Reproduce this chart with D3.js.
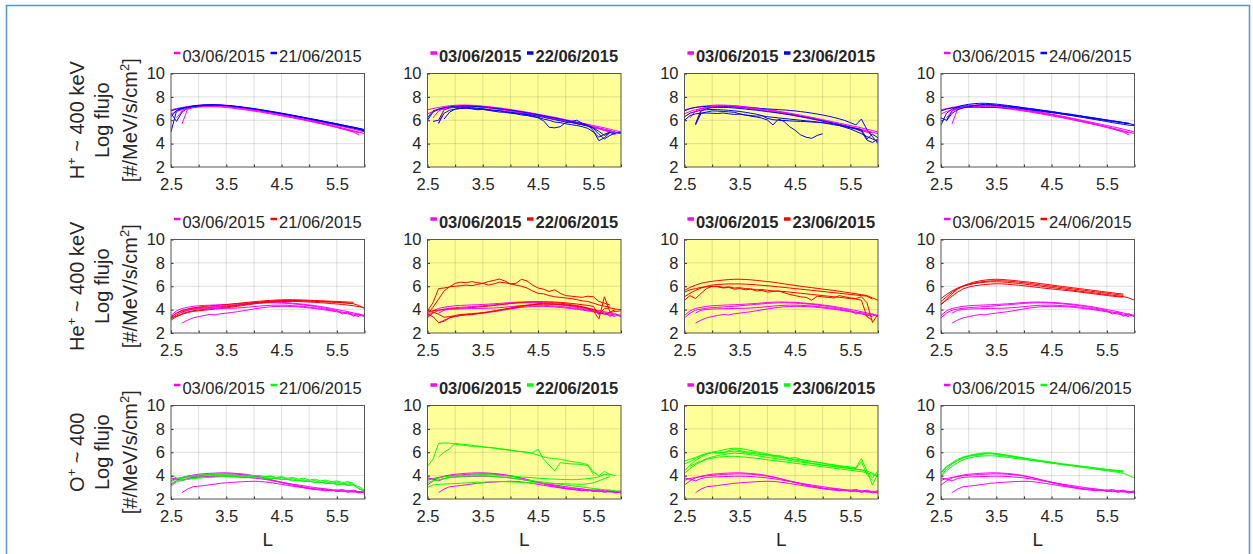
<!DOCTYPE html>
<html><head><meta charset="utf-8">
<script src="https://cdn.jsdelivr.net/npm/d3@7"></script>
<style>
html,body{margin:0;padding:0;background:#fff;}
svg{display:block;font-family:"Liberation Sans",Arial,Helvetica,sans-serif;}
</style></head><body>
<svg id="chart" width="1253" height="554"></svg>
<script>
// L-shell sample grid shared by every pass
const L = [2.5,2.6,2.7,2.8,2.9,3.0,3.1,3.2,3.3,3.4,3.5,3.6,
           3.7,3.8,3.9,4.0,4.1,4.2,4.3,4.4,4.5,4.6,4.7,4.8,
           4.9,5.0,5.1,5.2,5.3,5.4,5.5,5.6,5.7,5.8,5.9,6.0];

const refDay = "03/06/2015";
const days = ["21/06/2015","22/06/2015","23/06/2015","24/06/2015"];
const stormDays = [false,true,true,false];
const xTicks = [2.5,3,3.5,4,4.5,5,5.5,6];
const xTickLabels = [2.5,3.5,4.5,5.5];
const yTicks = [2,4,6,8,10];

// ---- H+ ~400 keV, log flux per pass ----
const refH = [
 [6.90,7.00,7.10,7.18,7.24,7.28,7.30,7.30,7.28,7.25,7.21,7.16,
  7.11,7.06,6.99,6.92,6.85,6.77,6.69,6.61,6.52,6.43,6.34,6.25,
  6.15,6.05,5.95,5.85,5.75,5.65,5.55,5.45,5.35,5.23,5.12,5.00],
 [6.55,6.75,6.90,7.00,7.08,7.13,7.16,7.17,7.16,7.13,7.09,7.04,
  6.98,6.92,6.85,6.78,6.71,6.63,6.55,6.47,6.38,6.29,6.20,6.11,
  6.01,5.91,5.81,5.71,5.61,5.50,5.39,5.28,5.16,5.04,4.92,null],
 [null,null,5.70,6.95,7.10,7.18,7.22,7.24,7.24,7.22,7.18,7.13,
  7.07,7.00,6.93,6.86,6.78,6.70,6.62,6.53,6.44,6.35,6.25,6.15,
  6.05,5.95,5.85,5.74,5.63,5.51,5.39,5.26,5.12,4.98,4.75,null],
 [null,6.20,6.80,7.00,7.10,7.17,7.21,7.23,7.23,7.21,7.17,7.12,
  7.06,7.00,6.94,6.87,6.80,6.72,6.64,6.56,6.47,6.38,6.29,6.19,
  6.09,5.99,5.89,5.78,5.67,5.56,5.45,5.34,5.22,5.10,4.98,4.86]
];
const h21 = [
 [5.00,6.80,7.00,7.12,7.22,7.28,7.32,7.33,7.32,7.30,7.26,7.21,
  7.15,7.09,7.02,6.95,6.88,6.81,6.73,6.65,6.57,6.49,6.41,6.32,
  6.23,6.14,6.05,5.96,5.87,5.78,5.69,5.60,5.50,5.41,5.31,5.20],
 [6.60,5.90,6.70,7.05,7.18,7.25,7.29,7.30,7.29,7.27,7.23,7.18,
  7.12,7.06,7.00,6.93,6.86,6.78,6.70,6.62,6.54,6.46,6.37,6.28,
  6.19,6.10,6.00,5.91,5.81,5.72,5.62,5.52,5.42,5.32,5.22,5.12],
 [6.80,6.95,7.05,7.13,7.19,7.24,7.27,7.29,7.30,7.30,7.28,7.24,
  7.19,7.13,7.07,7.00,6.93,6.85,6.77,6.69,6.61,6.52,6.43,6.34,
  6.25,6.16,6.07,5.98,5.88,5.79,5.69,5.59,5.49,5.39,5.29,5.18],
 [6.30,6.85,7.00,7.10,7.17,7.22,7.26,7.28,7.29,7.28,7.25,7.21,
  7.16,7.10,7.04,6.97,6.90,6.82,6.74,6.66,6.58,6.50,6.41,6.32,
  6.23,6.13,6.04,5.94,5.84,5.75,5.65,5.55,5.45,5.35,5.24,5.05]
];
const h22 = [
 [6.20,6.80,6.95,7.05,7.12,7.17,7.19,7.20,7.19,7.17,7.13,7.08,
  7.03,6.97,6.91,6.85,6.78,6.70,6.62,6.53,6.44,6.35,6.26,6.16,
  6.06,5.96,5.86,5.76,5.65,5.54,5.43,5.32,5.21,5.10,4.98,4.86],
 [null,5.90,6.00,6.90,7.05,7.10,7.12,7.08,7.00,6.95,6.98,6.88,
  6.80,6.83,6.72,6.65,6.60,6.52,6.48,6.35,6.20,5.95,5.40,5.35,
  5.45,5.80,5.90,6.00,5.75,5.60,5.10,4.25,4.50,4.95,null,null],
 [null,null,5.75,6.60,6.85,6.95,7.00,7.02,6.98,6.90,6.92,6.85,
  6.78,6.70,6.68,6.60,6.55,6.45,6.40,6.30,6.25,6.10,6.00,5.85,
  5.80,5.70,5.62,5.55,5.45,5.30,5.00,4.55,4.80,5.00,null,null],
 [6.00,6.70,6.95,7.08,7.15,7.20,7.22,7.22,7.20,7.18,7.14,7.10,
  7.04,6.98,6.92,6.86,6.80,6.72,6.64,6.56,6.47,6.38,6.29,6.20,
  6.10,6.00,5.90,5.80,5.70,5.55,5.35,5.05,4.70,4.95,4.85,null],
 [null,null,null,6.10,6.70,6.95,7.05,7.10,7.08,7.02,6.96,6.92,
  6.86,6.80,6.74,6.70,6.62,6.58,6.50,6.42,6.35,6.25,6.15,6.05,
  5.95,5.85,5.82,5.70,5.62,5.50,5.30,4.80,4.40,4.70,4.90,4.95]
];
const h23 = [
 [null,null,5.60,6.60,6.70,6.80,6.78,6.75,6.72,6.68,6.55,6.45,
  6.35,6.28,6.18,6.02,5.60,6.10,5.90,5.45,5.15,4.75,4.55,4.45,
  4.70,4.85,null,null,null,null,null,null,null,null,null,null],
 [6.30,6.60,6.75,6.85,6.90,6.92,6.90,6.88,6.85,6.80,6.75,6.68,
  6.60,6.52,6.40,6.15,6.05,6.00,5.98,5.95,5.92,5.90,5.88,5.85,
  5.82,5.80,5.75,5.68,5.55,5.40,5.25,5.05,4.85,4.60,4.40,4.20],
 [6.80,7.00,7.10,7.15,7.18,7.20,7.20,7.19,7.17,7.15,7.12,7.09,
  7.06,7.03,7.00,6.97,6.94,6.91,6.88,6.84,6.80,6.74,6.68,6.61,
  6.53,6.45,6.35,6.24,6.12,5.98,5.80,5.60,6.10,5.20,4.60,4.00],
 [null,null,5.70,6.80,7.00,7.08,7.10,7.10,7.08,7.05,7.01,6.96,
  6.91,6.86,6.80,6.74,6.68,6.62,6.55,6.48,6.40,6.32,6.23,6.14,
  6.04,5.94,5.84,5.74,5.63,5.52,5.41,5.30,5.20,4.40,4.80,4.50],
 [6.00,6.40,6.55,6.60,6.62,6.60,6.58,6.62,6.55,6.50,6.52,6.45,
  6.40,6.35,6.38,6.30,6.25,6.20,6.15,6.10,6.05,6.00,5.95,5.90,
  5.85,5.78,5.70,5.62,5.54,5.45,5.35,5.25,5.05,4.30,4.10,4.40]
];
const h24 = [
 [5.60,6.60,6.95,7.15,7.28,7.36,7.42,7.45,7.45,7.42,7.38,7.33,
  7.27,7.21,7.14,7.07,7.00,6.93,6.86,6.79,6.72,6.65,6.58,6.51,
  6.44,6.37,6.30,6.23,6.16,6.09,6.02,5.95,5.88,5.80,5.72,5.60],
 [6.20,6.00,6.80,7.05,7.15,7.22,7.26,7.28,7.28,7.26,7.23,7.20,
  7.15,7.10,7.05,6.99,6.93,6.87,6.80,6.73,6.66,6.59,6.52,6.44,
  6.37,6.29,6.21,6.13,6.05,5.97,5.89,5.80,5.72,5.65,5.58,5.55],
 [6.80,6.95,7.05,7.10,7.12,7.12,7.12,7.11,7.10,7.10,7.09,7.07,
  7.05,7.02,6.98,6.94,6.89,6.84,6.78,6.72,6.66,6.60,6.53,6.46,
  6.39,6.32,6.25,6.18,6.11,6.04,5.97,5.90,5.83,5.76,5.70,null],
 [null,5.95,6.60,6.90,7.05,7.15,7.25,7.32,7.36,7.35,7.30,7.25,
  7.22,7.15,7.12,7.05,7.00,6.95,6.88,6.82,6.75,6.68,6.60,6.55,
  6.47,6.40,6.32,6.25,6.18,6.10,6.02,5.95,5.88,5.80,5.74,null]
];

// ---- He+ ~400 keV ----
const refHe = [
 [3.50,3.90,4.10,4.20,4.28,4.33,4.36,4.38,4.40,4.42,4.44,4.47,
  4.50,4.53,4.57,4.61,4.64,4.65,4.65,4.64,4.62,4.59,4.55,4.51,
  4.46,4.40,4.34,4.27,4.19,4.10,4.01,3.92,3.82,3.72,3.60,3.52],
 [3.30,3.70,3.95,4.05,4.12,4.17,4.20,4.23,4.26,4.29,4.33,4.37,
  4.41,4.45,4.49,4.53,4.56,4.58,4.59,4.58,4.56,4.53,4.49,4.45,
  4.40,4.34,4.27,4.19,4.11,4.02,3.93,3.62,3.80,3.42,3.65,3.38],
 [null,null,2.85,3.10,3.30,3.40,3.50,3.58,3.55,3.65,3.70,3.76,
  3.82,3.90,3.98,4.06,4.13,4.19,4.24,4.27,4.28,4.28,4.26,4.23,
  4.19,4.14,4.09,4.03,3.96,3.89,3.81,3.72,3.63,3.53,3.40,null],
 [null,null,3.70,3.95,4.02,4.05,4.07,4.08,4.09,4.10,4.11,4.12,
  4.14,4.17,4.21,4.26,4.30,4.34,4.37,4.38,4.38,4.37,4.34,4.31,
  4.27,4.22,4.16,4.10,4.03,3.95,3.87,3.79,3.70,3.62,3.52,3.45]
];
const he21 = [
 [3.20,3.55,3.80,3.95,4.05,4.10,4.14,4.18,4.22,4.26,4.30,4.35,
  4.40,4.46,4.52,4.58,4.63,4.68,4.72,4.75,4.77,4.78,4.78,4.77,
  4.76,4.74,4.72,4.70,4.68,4.66,4.63,4.60,4.55,4.50,4.35,4.10],
 [3.30,3.45,3.65,3.80,3.90,3.97,4.02,4.07,4.12,4.17,4.23,4.29,
  4.36,4.43,4.50,4.56,4.61,4.66,4.70,4.73,4.75,4.76,4.76,4.75,
  4.74,4.72,4.70,4.68,4.66,4.64,4.62,4.59,4.56,4.52,null,null],
 [3.10,3.40,3.60,3.75,3.85,3.90,3.95,4.00,4.05,4.10,4.16,4.22,
  4.28,4.35,4.42,4.49,4.55,4.60,4.64,4.67,4.69,4.70,4.70,4.69,
  4.67,4.65,4.62,4.59,4.56,4.52,4.48,4.44,4.39,4.33,4.25,4.18],
 [3.40,3.70,3.90,4.05,4.15,4.22,4.27,4.31,4.35,4.39,4.43,4.48,
  4.53,4.58,4.63,4.68,4.72,4.76,4.79,4.82,4.84,4.85,4.85,4.84,
  4.82,4.80,4.78,4.76,4.74,4.72,4.70,4.68,4.65,4.62,null,null]
];
const he22 = [
 [3.90,4.60,5.80,5.85,5.95,6.00,6.05,6.10,6.05,6.15,6.25,6.10,
  6.20,6.35,6.30,6.20,6.10,6.00,5.85,5.60,5.40,5.35,5.20,5.10,
  5.05,5.00,4.95,4.85,4.75,4.70,4.55,4.40,4.30,4.20,null,null],
 [3.60,4.20,4.90,5.60,5.95,6.25,6.35,6.30,6.40,6.30,6.25,6.40,
  6.50,6.62,6.45,6.20,6.25,6.60,6.45,6.10,5.85,5.75,5.55,5.70,
  5.40,5.20,5.15,5.10,5.05,5.15,5.10,4.70,4.55,4.40,null,null],
 [3.80,3.90,3.95,4.00,4.05,4.10,4.12,4.15,4.18,4.22,4.26,4.30,
  4.35,4.40,4.46,4.52,4.58,4.62,4.65,4.67,4.68,4.68,4.67,4.65,
  4.62,4.58,4.53,4.48,4.42,4.36,4.28,3.60,4.10,4.15,4.05,4.00],
 [3.60,3.40,2.90,3.00,3.30,3.45,3.50,3.55,3.60,3.65,3.72,3.80,
  3.88,3.97,4.06,4.15,4.24,4.32,4.38,4.42,4.45,4.46,4.46,4.45,
  4.43,4.40,4.35,4.28,4.20,4.10,3.90,3.20,5.10,3.80,4.00,null],
 [3.40,3.80,3.60,3.35,3.40,3.50,3.58,3.62,3.66,3.70,3.74,3.80,
  3.88,3.95,4.02,4.10,4.18,4.26,4.34,4.42,4.50,4.55,4.58,4.58,
  4.55,4.50,4.42,4.35,4.25,4.15,4.00,3.80,3.60,3.75,3.85,3.90]
];
const he23 = [
 [5.65,5.90,6.10,6.25,6.35,6.42,6.48,6.53,6.57,6.60,6.60,6.58,
  6.55,6.50,6.45,6.40,6.35,6.28,6.21,6.14,6.07,6.00,5.94,5.88,
  5.82,5.76,5.70,5.64,5.57,5.50,5.43,5.36,5.28,5.20,5.00,4.80],
 [5.10,5.40,5.65,5.85,6.00,6.10,6.15,6.18,6.20,6.20,6.20,6.18,
  6.15,6.12,6.08,6.04,6.00,5.95,5.90,5.85,5.80,5.75,5.70,5.65,
  5.60,5.55,5.50,5.45,5.40,5.35,5.30,5.25,5.20,5.15,4.90,null],
 [4.80,5.20,4.95,5.40,5.80,6.00,5.95,5.85,5.90,5.75,5.80,5.70,
  5.75,5.60,5.65,5.50,5.55,5.60,5.45,5.30,5.20,5.10,5.05,4.80,
  5.15,5.10,5.05,5.00,5.20,5.10,5.00,4.95,5.10,4.60,2.90,3.60],
 [5.50,5.70,5.80,5.90,5.95,5.98,6.00,5.90,5.95,5.85,5.88,5.80,
  5.78,5.70,5.72,5.65,5.60,5.58,5.55,5.50,5.45,5.40,5.35,5.30,
  5.25,5.20,5.15,5.10,5.05,5.00,4.95,4.90,4.80,3.40,3.10,null]
];
const he24 = [
 [4.40,4.90,5.35,5.75,6.02,6.22,6.36,6.46,6.53,6.58,6.60,6.58,
  6.54,6.50,6.45,6.40,6.35,6.29,6.23,6.17,6.10,6.04,5.98,5.92,
  5.86,5.80,5.74,5.68,5.62,5.56,5.50,5.44,5.38,5.33,null,null],
 [4.70,5.10,5.50,5.80,6.00,6.12,6.22,6.30,6.35,6.38,6.38,6.36,
  6.33,6.29,6.24,6.19,6.13,6.07,6.01,5.95,5.89,5.83,5.77,5.71,
  5.65,5.59,5.53,5.47,5.41,5.35,5.29,5.23,5.17,5.11,5.00,4.80],
 [4.95,5.30,5.60,5.85,6.03,6.17,6.28,6.36,6.42,6.46,6.48,6.47,
  6.44,6.40,6.35,6.30,6.24,6.18,6.12,6.06,6.00,5.94,5.88,5.82,
  5.76,5.70,5.64,5.58,5.52,5.46,5.40,5.34,5.28,5.22,null,null],
 [4.50,4.80,5.15,5.50,5.78,5.93,6.03,6.10,6.15,6.19,6.21,6.20,
  6.17,6.13,6.09,6.04,5.99,5.93,5.87,5.82,5.77,5.72,5.67,5.62,
  5.57,5.51,5.45,5.39,5.33,5.27,5.21,5.15,5.10,5.06,null,null]
];

// ---- O+ ~400 ----
const refO = [
 [3.20,3.55,3.80,3.95,4.05,4.12,4.16,4.20,4.22,4.24,4.24,4.22,
  4.18,4.14,4.08,4.00,3.90,3.78,3.65,3.52,3.40,3.28,3.17,3.07,
  2.98,2.90,2.83,2.90,2.72,2.80,2.65,2.72,2.60,2.68,2.55,2.62],
 [3.60,3.75,3.85,3.92,3.98,4.02,4.06,4.10,4.12,4.14,4.15,4.14,
  4.12,4.08,4.02,3.95,3.87,3.77,3.66,3.55,3.44,3.33,3.23,3.13,
  3.04,2.95,2.88,2.80,2.85,2.70,2.78,2.62,2.70,2.58,2.66,2.50],
 [null,null,2.55,2.85,3.05,3.10,3.15,3.22,3.28,3.35,3.38,3.42,
  3.45,3.48,3.50,3.52,3.50,3.46,3.40,3.33,3.25,3.17,3.09,3.02,
  2.95,2.88,2.82,2.76,2.70,2.78,2.64,2.70,2.58,2.66,2.52,2.60],
 [3.80,3.70,3.55,3.75,3.85,3.88,3.90,3.92,3.93,3.94,3.95,3.94,
  3.92,3.89,3.85,3.80,3.74,3.67,3.59,3.51,3.43,3.35,3.27,3.20,
  3.13,3.05,2.98,2.92,2.86,2.80,2.74,2.82,2.68,2.76,2.62,2.70]
];
const o21 = [
 [3.30,3.60,3.75,3.85,3.90,3.95,3.98,4.00,4.02,4.03,4.04,4.04,
  4.03,4.01,3.98,3.95,3.91,3.87,3.95,3.78,3.85,3.68,3.75,3.58,
  3.66,3.50,3.58,3.42,3.50,3.35,3.44,3.30,3.38,3.25,2.85,2.70],
 [4.00,3.80,3.65,3.70,3.78,3.85,3.90,3.92,3.93,3.92,3.90,3.88,
  3.86,3.84,3.82,3.80,3.78,3.75,3.72,3.80,3.64,3.72,3.55,3.63,
  3.47,3.55,3.38,3.46,3.30,3.38,3.22,3.30,3.15,3.22,3.05,2.75],
 [3.50,3.70,3.85,3.95,4.00,4.05,4.08,4.10,4.10,4.08,4.06,4.04,
  4.02,4.00,4.05,3.97,4.02,3.92,3.98,3.85,3.92,3.78,3.85,3.70,
  3.78,3.62,3.70,3.55,3.62,3.48,3.55,3.42,3.48,3.35,null,null],
 [3.10,3.45,3.60,3.68,3.74,3.78,3.82,3.85,3.88,3.90,3.92,3.93,
  3.93,3.92,3.90,3.88,3.85,3.82,3.78,3.74,3.70,3.66,3.62,3.58,
  3.54,3.50,3.46,3.42,3.38,3.34,3.30,3.26,3.22,3.18,2.90,2.65]
];
const o22 = [
 [4.80,5.40,6.75,6.80,6.78,6.70,6.62,6.58,6.50,6.55,6.45,6.40,
  6.35,6.30,6.25,6.20,6.10,6.05,6.00,5.95,6.25,5.40,4.90,4.40,
  5.10,5.05,5.00,4.98,4.95,4.85,4.10,null,null,null,null,null],
 [null,null,5.60,6.00,6.30,6.75,6.70,6.65,6.60,6.50,6.45,6.42,
  6.38,6.30,6.22,6.15,6.10,6.05,6.00,5.90,5.75,5.60,5.50,5.45,
  5.40,5.30,5.20,5.15,5.05,4.95,4.30,4.00,4.35,4.10,4.00,null],
 [3.80,3.70,3.80,3.90,3.95,3.98,4.00,4.02,4.05,4.08,4.10,4.08,
  4.05,4.02,3.98,3.95,3.92,3.88,3.85,3.82,3.78,3.75,3.72,3.70,
  3.68,3.66,3.65,3.66,3.70,3.75,3.80,3.90,4.10,4.05,null,null],
 [3.00,3.20,3.25,3.28,3.30,3.32,3.35,3.38,3.40,3.45,3.42,3.48,
  3.46,3.50,3.48,3.46,3.44,3.42,3.40,3.38,3.36,3.35,3.34,3.33,
  3.32,3.30,3.28,3.27,3.26,3.30,3.40,3.55,3.75,3.90,null,null],
 [3.40,3.55,3.65,3.75,3.82,3.88,3.92,3.95,3.97,3.98,3.98,3.96,
  3.93,3.90,3.85,3.80,3.74,3.68,3.62,3.56,3.50,3.44,3.38,3.32,
  3.26,3.20,3.14,3.08,3.02,2.96,2.90,2.85,2.80,2.75,2.70,2.65]
];
const o23 = [
 [4.40,4.90,5.30,5.60,5.85,6.00,6.10,6.20,6.30,6.35,6.32,6.25,
  6.15,6.05,5.95,5.85,5.75,5.65,5.55,5.45,5.35,5.25,5.15,5.05,
  4.98,4.90,4.84,4.78,4.72,4.66,4.60,4.54,4.48,4.40,4.20,4.00],
 [5.00,5.20,5.45,5.70,5.85,5.95,6.00,5.95,6.05,6.10,6.05,5.95,
  5.90,5.85,5.80,5.72,5.65,5.58,5.50,5.45,5.40,5.35,5.28,5.22,
  5.15,5.08,5.00,4.93,4.86,4.80,4.74,4.68,5.45,4.40,3.20,4.20],
 [5.25,5.40,5.55,5.75,5.90,6.00,5.90,5.95,6.15,6.25,6.15,6.05,
  6.00,5.95,5.85,5.80,5.70,5.75,5.60,5.50,5.55,5.40,5.30,5.20,
  5.15,5.05,4.95,4.88,4.80,4.75,4.68,4.60,5.20,4.10,3.60,null],
 [4.20,4.60,4.95,5.20,5.40,5.50,5.58,5.62,5.65,5.65,5.62,5.58,
  5.53,5.48,5.42,5.36,5.30,5.24,5.18,5.12,5.06,5.00,4.94,4.88,
  4.82,4.76,4.70,4.64,4.58,4.52,4.46,4.40,4.34,4.25,4.10,3.90],
 [null,4.80,5.05,5.25,5.45,5.60,5.72,5.80,5.88,5.92,5.90,5.85,
  5.80,5.72,5.64,5.56,5.48,5.42,5.36,5.30,5.22,5.15,5.10,5.02,
  4.96,4.90,4.84,4.78,4.72,4.66,4.60,4.55,4.50,4.30,3.80,4.40]
];
const o24 = [
 [4.20,4.70,5.10,5.40,5.60,5.72,5.82,5.90,5.95,5.93,5.88,5.80,
  5.72,5.64,5.56,5.48,5.40,5.32,5.24,5.16,5.08,5.02,4.96,4.90,
  4.85,4.80,4.74,4.68,4.62,4.56,4.50,4.46,4.42,4.38,null,null],
 [3.90,4.40,4.80,5.10,5.35,5.50,5.60,5.66,5.70,5.70,5.67,5.62,
  5.56,5.50,5.44,5.38,5.32,5.26,5.20,5.14,5.08,5.02,4.96,4.90,
  4.84,4.78,4.72,4.66,4.60,4.54,4.48,4.42,4.36,4.30,null,null],
 [4.30,4.80,5.05,5.30,5.50,5.65,5.72,5.78,5.85,5.86,5.80,5.72,
  5.66,5.60,5.52,5.46,5.38,5.30,5.24,5.16,5.10,5.02,4.95,4.88,
  4.82,4.75,4.68,4.62,4.55,4.48,4.42,4.35,4.28,4.20,4.00,3.80],
 [4.00,4.55,5.00,5.30,5.52,5.68,5.78,5.86,5.90,5.92,5.88,5.82,
  5.75,5.68,5.60,5.52,5.44,5.36,5.30,5.22,5.16,5.08,5.02,4.96,
  4.90,4.84,4.78,4.72,4.66,4.60,4.54,4.48,4.44,4.40,null,null]
];

// ---- layout and styling ----
const W = 1253, H = 554;
const colLeft = [171, 427.5, 684.5, 941];
const rowTop = [73.5, 239.5, 405.5];
const pw = 193.5, ph = 93.5;
const refColor = "#ff00ff";
const textColor = "#262626";

const rows = [
  {ion: ["H", "+", " ~ 400 keV"], ref: refH, cmp: [h21, h22, h23, h24], color: "#0000ff"},
  {ion: ["He", "+", " ~ 400 keV"], ref: refHe, cmp: [he21, he22, he23, he24], color: "#ff0000"},
  {ion: ["O", "+", " ~ 400"], ref: refO, cmp: [o21, o22, o23, o24], color: "#00ff00"}
];

const svg = d3.select("#chart");
svg.append("rect").attr("width", W).attr("height", H).attr("fill", "#fff");
svg.append("rect")
  .attr("x", 6.5).attr("y", 5.5).attr("width", 1243).attr("height", 570)
  .attr("fill", "none").attr("stroke", "#5b9bd5").attr("stroke-width", 1.6);

rows.forEach((row, r) => {
  const top = rowTop[r];

  // row label (rotated, three lines)
  const lab = svg.append("g")
    .attr("transform", `translate(0,${top + ph / 2})`)
    .attr("fill", textColor).style("font-size", "20px");
  const line1 = lab.append("text").attr("transform", "translate(83.5,0) rotate(-90)").attr("text-anchor", "middle");
  line1.append("tspan").text(row.ion[0]);
  line1.append("tspan").attr("dy", -8).style("font-size", "13px").text(row.ion[1]);
  line1.append("tspan").attr("dy", 8).text(row.ion[2]);
  lab.append("text").attr("transform", "translate(108.5,0) rotate(-90)").attr("text-anchor", "middle").text("Log flujo");
  const line3 = lab.append("text").attr("transform", "translate(137,0) rotate(-90)").attr("text-anchor", "middle");
  line3.append("tspan").text("[#/MeV/s/cm");
  line3.append("tspan").attr("dy", -8).style("font-size", "13px").text("2");
  line3.append("tspan").attr("dy", 8).text("]");

  days.forEach((day, c) => {
    const left = colLeft[c];
    const x = d3.scaleLinear().domain([2.5, 6]).range([left, left + pw]);
    const y = d3.scaleLinear().domain([2, 10]).range([top + ph, top]);
    const g = svg.append("g");
    const clipId = `clip-${r}-${c}`;
    g.append("clipPath").attr("id", clipId)
      .append("rect").attr("x", left).attr("y", top).attr("width", pw).attr("height", ph);

    g.append("rect").attr("x", left).attr("y", top).attr("width", pw).attr("height", ph)
      .attr("fill", stormDays[c] ? "#ffff99" : "#ffffff");

    // grid
    g.append("g").selectAll("line").data(xTicks.slice(1, -1)).join("line")
      .attr("x1", d => x(d)).attr("x2", d => x(d)).attr("y1", top).attr("y2", top + ph)
      .attr("stroke", textColor).attr("stroke-opacity", 0.15);
    g.append("g").selectAll("line").data(yTicks.slice(1, -1)).join("line")
      .attr("y1", d => y(d)).attr("y2", d => y(d)).attr("x1", left).attr("x2", left + pw)
      .attr("stroke", textColor).attr("stroke-opacity", 0.15);

    // passes: reference day and event day drawn alternately
    const line = d3.line().defined(v => v != null).x((v, i) => x(L[i])).y(v => y(v));
    const tr = g.append("g").attr("clip-path", `url(#${clipId})`).attr("fill", "none").attr("stroke-width", 1);
    const cmp = row.cmp[c];
    const n = Math.max(row.ref.length, cmp.length);
    for (let i = 0; i < n; i++) {
      if (row.ref[i]) tr.append("path").attr("d", line(row.ref[i])).attr("stroke", refColor);
      if (cmp[i]) tr.append("path").attr("d", line(cmp[i])).attr("stroke", row.color);
    }

    // axes
    const xa = d3.axisBottom(x).tickValues(xTicks).tickSize(-2.5).tickPadding(11)
      .tickFormat(d => xTickLabels.includes(d) ? d3.format(".1f")(d) : "");
    const ya = d3.axisLeft(y).tickValues(yTicks).tickSize(-2.5).tickPadding(6);
    const gx = g.append("g").attr("transform", `translate(0,${top + ph})`).call(xa);
    const gy = g.append("g").attr("transform", `translate(${left},0)`).call(ya);
    [gx, gy].forEach(a => {
      a.select(".domain").remove();
      a.selectAll(".tick line").attr("stroke", textColor);
      a.selectAll("text").attr("fill", textColor)
        .style("font-size", "16.5px").style("font-family", "'Liberation Sans', Arial, sans-serif");
    });
    g.append("rect").attr("x", left).attr("y", top).attr("width", pw).attr("height", ph)
      .attr("fill", "none").attr("stroke", "#555").attr("stroke-width", 1);

    // legend
    const bold = stormDays[c];
    const lg = g.append("g").style("font-size", "16.5px").style("font-weight", bold ? "bold" : "normal")
      .attr("fill", textColor);
    const items = [{label: refDay, color: refColor}, {label: day, color: row.color}];
    const base = top - 12;
    let cx = 0;
    const parts = [];
    items.forEach((it, k) => {
      const dash = lg.append("line").attr("stroke", it.color).attr("stroke-width", bold ? 3.5 : 2.5)
        .attr("y1", base - 8.5).attr("y2", base - 8.5);
      const t = lg.append("text").attr("y", base).text(it.label);
      const tw = t.node().getComputedTextLength();
      parts.push({dash, t, start: cx, tw});
      cx += 6.5 + 2 + tw + (k === 0 ? 5.5 : 0);
    });
    const offset = left + pw / 2 - cx / 2;
    parts.forEach(p => {
      p.dash.attr("x1", offset + p.start).attr("x2", offset + p.start + 6.5);
      p.t.attr("x", offset + p.start + 8.5);
    });

    if (r === rows.length - 1) {
      svg.append("text").attr("x", left + pw / 2).attr("y", 546).attr("text-anchor", "middle")
        .attr("fill", textColor).style("font-size", "19px").text("L");
    }
  });
});
</script>
</body></html>
